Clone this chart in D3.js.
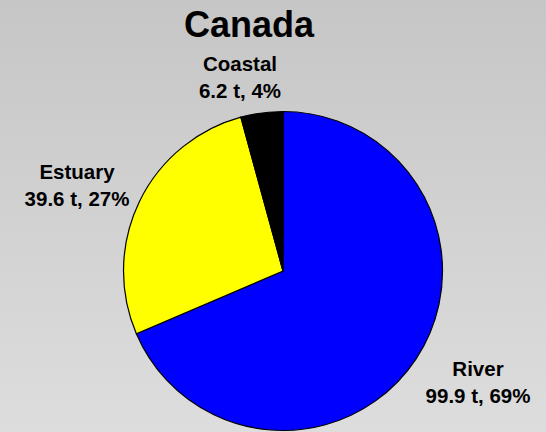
<!DOCTYPE html>
<html>
<head>
<meta charset="utf-8">
<script src="https://cdn.jsdelivr.net/npm/d3@7"></script>
<style>
  html, body { margin: 0; padding: 0; }
  body { width: 546px; height: 432px; overflow: hidden; }
  text { font-family: Arial, "Liberation Sans", sans-serif; font-weight: bold; fill: #000; }
</style>
</head>
<body>
<svg id="chart" width="546" height="432"></svg>
<script>
// Catch by habitat type, tonnes
const categories = ["River", "Estuary", "Coastal"];
const tonnes = [99.9, 39.6, 6.2];
const colors = ["#0000ff", "#ffff00", "#000000"];
const title = "Canada";

const W = 546, H = 432;
const cx = 283, cy = 271, radius = 159.5;

const svg = d3.select("#chart");

// soft vertical grey backdrop
const defs = svg.append("defs");
const grad = defs.append("linearGradient")
  .attr("id", "bg").attr("x1", 0).attr("y1", 0).attr("x2", 0).attr("y2", 1);
grad.append("stop").attr("offset", "0%").attr("stop-color", "#c6c6c6");
grad.append("stop").attr("offset", "100%").attr("stop-color", "#dddddd");
svg.append("rect").attr("width", W).attr("height", H).attr("fill", "url(#bg)");

svg.append("text")
  .attr("x", 249).attr("y", 37)
  .attr("text-anchor", "middle")
  .style("font-size", "36px")
  .text(title);

const total = d3.sum(tonnes);
const data = categories.map((c, i) => ({ name: c, value: tonnes[i], color: colors[i] }));

const pie = d3.pie().sort(null).value(d => d.value);
const arc = d3.arc().innerRadius(0).outerRadius(radius);

const g = svg.append("g").attr("transform", `translate(${cx},${cy})`);
g.selectAll("path")
  .data(pie(data))
  .join("path")
  .attr("d", arc)
  .attr("fill", d => d.data.color)
  .attr("stroke", "#000")
  .attr("stroke-width", 1.2);

// label anchor points (centre of each two-line label)
const labelPos = { River: [478, 376], Estuary: [77, 179], Coastal: [240, 71] };
const fmtPct = v => Math.round(v / total * 100) + "%";

data.forEach(d => {
  const [x, y] = labelPos[d.name];
  const t = svg.append("text")
    .attr("text-anchor", "middle")
    .style("font-size", "20.5px");
  t.append("tspan").attr("x", x).attr("y", y).text(d.name);
  t.append("tspan").attr("x", x).attr("y", y + 27)
    .text(`${d.value} t, ${fmtPct(d.value)}`);
});
</script>
</body>
</html>
